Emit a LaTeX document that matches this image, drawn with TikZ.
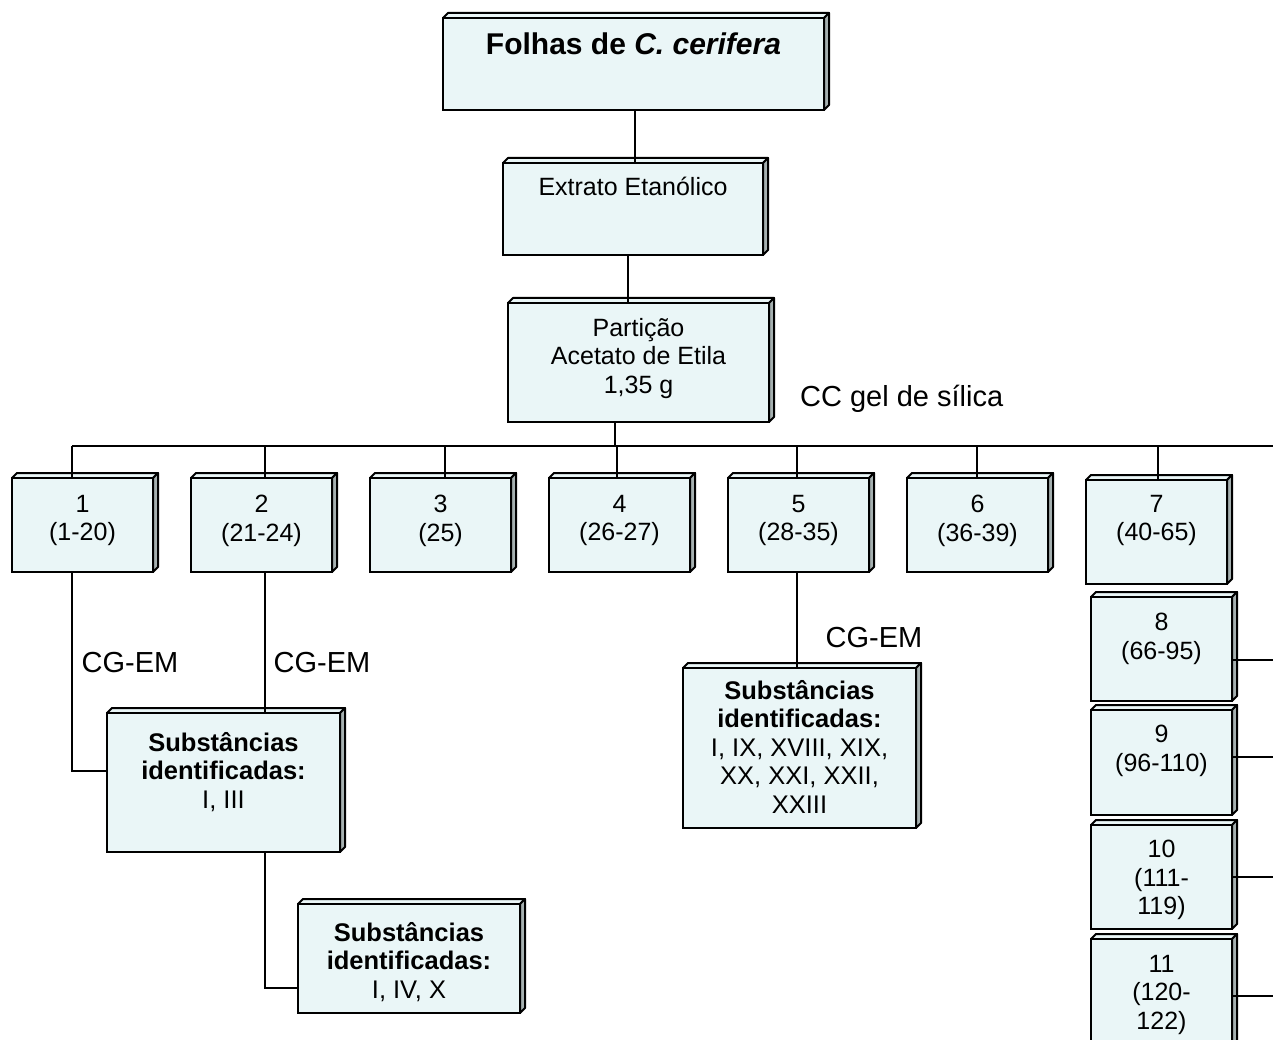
\documentclass[tikz,border=0pt]{standalone}
\usepackage{fontspec}
\setmainfont{Liberation Sans}
\definecolor{boxfill}{RGB}{234,246,247}
\definecolor{boxside}{RGB}{165,176,176}
\tikzset{
  front/.style={draw, fill=boxfill, line width=2pt, inner sep=0pt, rectangle},
  facet/.style={draw, line width=2pt, line join=round},
  txt/.style={anchor=north, align=center, inner sep=0pt, font=\fontsize{25}{28.5}\selectfont},
  subtxt/.style={anchor=north, align=center, inner sep=0pt, font=\fontsize{25.5}{28.5}\selectfont},
  lbl/.style={inner sep=0pt, font=\fontsize{29}{33}\selectfont},
  conn/.style={line width=1.7pt}
}
% name, x1, y1, x2, y2  (pixel coordinates, y downwards)
\newcommand{\cubebox}[5]{%
  \fill[boxfill] (#2,#3) -- ({#2+5},{#3-5}) -- ({#4+5},{#3-5}) -- (#4,#3) -- cycle;
  \draw[facet] (#2,#3) -- ({#2+5},{#3-5}) -- ({#4+5},{#3-5}) -- (#4,#3);
  \filldraw[facet, fill=boxside] (#4,#3) -- ({#4+5},{#3-5}) -- ({#4+5},{#5-5}) -- (#4,#5) -- cycle;
  \node[front, minimum width={(#4-#2)*1pt}, minimum height={(#5-#3)*1pt}] (#1) at ({(#2+#4)/2},{(#3+#5)/2}) {};
}
\begin{document}
\begin{tikzpicture}[x=1pt, y=-1pt]
\useasboundingbox (0,0) rectangle (1273,1040);
\clip (0,0) rectangle (1273,1040);

% boxes
\cubebox{folhas}{443}{18}{824}{110}
\node[txt, font=\bfseries\fontsize{30}{34}\selectfont] (folhast) at (633.5,33) {Folhas de \textit{C. cerifera}};

\cubebox{extrato}{503}{163}{763}{255}
\node[txt] (extratot) at (633,177) {Extrato Etanólico};

\cubebox{partic}{508}{303}{769}{422}
\node[txt] (partict) at (638.5,318) {Partição\\Acetato de Etila\\1,35 g};

\node[lbl, anchor=west] (ccgel) at (800,399) {CC gel de sílica};

\cubebox{b1}{12}{478}{153}{572}
\node[txt] (b1t) at (82.5,495) {1\\(1-20)};
\cubebox{b2}{191}{478}{332}{572}
\node[txt] (b2t) at (261.5,495) {2\\(21-24)};
\cubebox{b3}{370}{478}{511}{572}
\node[txt] (b3t) at (440.5,495) {3\\(25)};
\cubebox{b4}{549}{478}{690}{572}
\node[txt] (b4t) at (619.5,495) {4\\(26-27)};
\cubebox{b5}{728}{478}{869}{572}
\node[txt] (b5t) at (798.5,495) {5\\(28-35)};
\cubebox{b6}{907}{478}{1048}{572}
\node[txt] (b6t) at (977.5,495) {6\\(36-39)};
\cubebox{b7}{1086}{480}{1227}{584}
\node[txt] (b7t) at (1156.5,495) {7\\(40-65)};

\cubebox{b8}{1091}{597}{1232}{701}
\node[txt] (b8t) at (1161.5,613) {8\\(66-95)};
\cubebox{b9}{1091}{710}{1232}{815}
\node[txt] (b9t) at (1161.5,725) {9\\(96-110)};
\cubebox{b10}{1091}{825}{1232}{929}
\node[txt] (b10t) at (1161.5,840) {10\\(111-\\119)};
\cubebox{b11}{1091}{939}{1232}{1060}
\node[txt] (b11t) at (1161.5,955) {11\\(120-\\122)};

\cubebox{sA}{107}{713}{340}{852}
\node[subtxt] (sAt) at (223.5,732) {\textbf{Substâncias}\\\textbf{identificadas:}\\I, III};
\cubebox{sB}{298}{904}{520}{1013}
\node[subtxt] (sBt) at (409,922) {\textbf{Substâncias}\\\textbf{identificadas:}\\I, IV, X};
\cubebox{sC}{683}{668}{916}{828}
\node[subtxt] (sCt) at (799.5,680) {\textbf{Substâncias}\\\textbf{identificadas:}\\I, IX, XVIII, XIX,\\XX, XXI, XXII,\\XXIII};

% labels
\node[lbl] (cg1) at (130,663) {CG-EM};
\node[lbl] (cg2) at (322,663) {CG-EM};
\node[lbl] (cg5) at (874,638) {CG-EM};

% connectors
\coordinate (busL) at (72,446);
\coordinate (busR) at (1273,446);
\coordinate (rEdge) at (1273,0);
\draw[conn] (folhas.south -| 635,0) -- (extrato.north -| 635,0);
\draw[conn] (extrato.south -| 628,0) -- (partic.north -| 628,0);
\draw[conn] (partic.south -| 615,0) -- (busL -| 615,0);
\draw[conn] (busL) -- (busR);
\draw[conn] (busL) -- (b1.north -| busL);
\draw[conn] (busL -| 265,0) -- (b2.north -| 265,0);
\draw[conn] (busL -| 445,0) -- (b3.north -| 445,0);
\draw[conn] (busL -| 617,0) -- (b4.north -| 617,0);
\draw[conn] (busL -| 797,0) -- (b5.north -| 797,0);
\draw[conn] (busL -| 977,0) -- (b6.north -| 977,0);
\draw[conn] (busL -| 1158,0) -- (b7.north -| 1158,0);

\draw[conn] (b1.south -| busL) |- (sA.west |- 0,771);
\draw[conn] (b2.south -| 265,0) -- (sA.north -| 265,0);
\draw[conn] (sA.south -| 265,0) |- (sB.west |- 0,988);
\draw[conn] (b5.south -| 797,0) -- (sC.north -| 797,0);

\draw[conn] (b8.east |- 0,660) -- (rEdge |- 0,660);
\draw[conn] (b9.east |- 0,757) -- (rEdge |- 0,757);
\draw[conn] (b10.east |- 0,877) -- (rEdge |- 0,877);
\draw[conn] (b11.east |- 0,996) -- (rEdge |- 0,996);
\end{tikzpicture}
\end{document}
